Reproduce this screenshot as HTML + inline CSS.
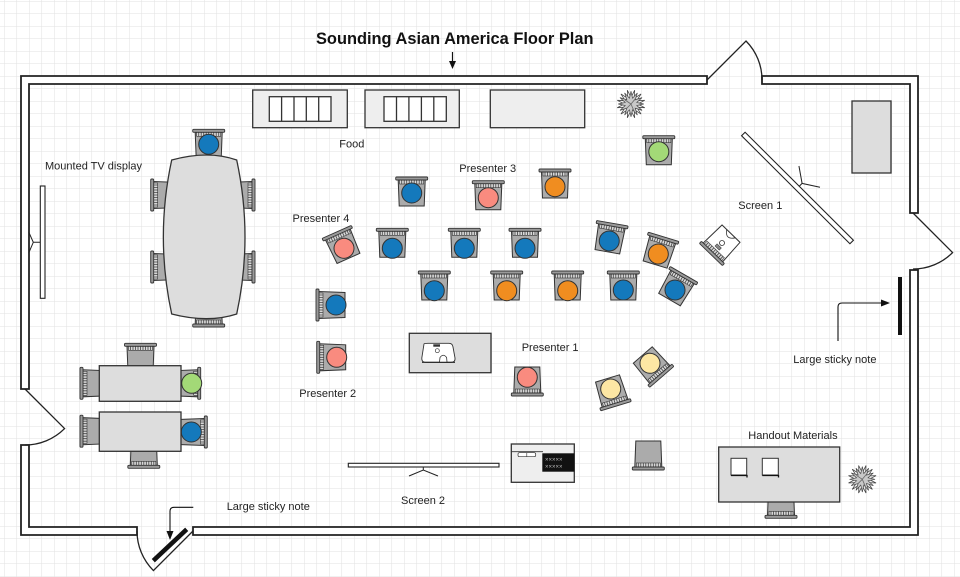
<!DOCTYPE html>
<html><head><meta charset="utf-8"><style>
html,body{margin:0;padding:0;background:#fff;}
svg{display:block;}
text{font-family:"Liberation Sans",Arial,sans-serif;fill:#222;}
</style></head><body>
<svg width="960" height="577" viewBox="0 0 960 577" xmlns="http://www.w3.org/2000/svg">
<defs>
<pattern id="grid" x="4" y="1" width="12.5" height="12.5" patternUnits="userSpaceOnUse">
<path d="M12.5 0 L0 0 L0 12.5" fill="none" stroke="#e2e2e2" stroke-width="1.1"/>
</pattern>
<g id="ch">
<polygon points="-13.5,-13 13.5,-13 12.5,13 -12.5,13" fill="#ababab" stroke="#333" stroke-width="1"/>
<rect x="-12" y="-13" width="24" height="4" fill="#d8d8d8" stroke="#333" stroke-width="0.6"/>
<path d="M-10,-13v4M-7.5,-13v4M-5,-13v4M-2.5,-13v4M0,-13v4M2.5,-13v4M5,-13v4M7.5,-13v4M10,-13v4" stroke="#444" stroke-width="0.8"/>
<rect x="-16" y="-16" width="32" height="3" rx="1" fill="#9a9a9a" stroke="#333" stroke-width="0.9"/>
</g>
<g id="plant">
<polygon points="15,0 6.8,1.8 13,7.5 4.9,4.9 7.5,13 1.8,6.8 0,15 -1.8,6.8 -7.5,13 -4.9,4.9 -13,7.5 -6.8,1.8 -15,0 -6.8,-1.8 -13,-7.5 -4.9,-4.9 -7.5,-13 -1.8,-6.8 0,-15 1.8,-6.8 7.5,-13 4.9,-4.9 13,-7.5 6.8,-1.8" fill="#eee" stroke="#444" stroke-width="0.8" transform="rotate(15) scale(0.95)"/>
<polygon points="15,0 6.8,1.8 13,7.5 4.9,4.9 7.5,13 1.8,6.8 0,15 -1.8,6.8 -7.5,13 -4.9,4.9 -13,7.5 -6.8,1.8 -15,0 -6.8,-1.8 -13,-7.5 -4.9,-4.9 -7.5,-13 -1.8,-6.8 0,-15 1.8,-6.8 7.5,-13 4.9,-4.9 13,-7.5 6.8,-1.8" fill="#c8c8c8" stroke="#444" stroke-width="0.8" transform="scale(0.85)"/>
<path d="M0,0 L-6,-4 M0,0 L5,-6 M0,0 L3,7 M0,0 L-5,5" stroke="#666" stroke-width="0.8"/>
</g>
</defs>
<rect width="960" height="577" fill="#fff"/>
<rect width="960" height="577" fill="url(#grid)"/>

<!-- Title -->
<text x="316" y="44" font-size="16.4" font-weight="bold" style="fill:#111">Sounding Asian America Floor Plan</text>
<line x1="452.5" y1="52" x2="452.5" y2="62" stroke="#111" stroke-width="1.2"/>
<polygon points="449,61 456,61 452.5,69" fill="#111"/>

<!-- Walls -->
<g fill="#fff" stroke="#222" stroke-width="1.8" stroke-linejoin="miter">
<path d="M707,76 L21,76 L21,389 L29,389 L29,84 L707,84 Z"/>
<path d="M21,445 L21,535 L137,535 L137,527 L29,527 L29,445 Z"/>
<path d="M193,527 L910,527 L910,270 L918,270 L918,535 L193,535 Z"/>
<path d="M762,76 L918,76 L918,213 L910,213 L910,84 L762,84 Z"/>
</g>
<!-- Doors -->
<g fill="none" stroke="#222" stroke-width="1.3">
<path d="M707,80 L746,41 A55,55 0 0 1 762,80"/>
<path d="M913,213 L952.6,252.6 A56,56 0 0 1 913,269"/>
<path d="M25,389 L64.6,428.6 A56,56 0 0 1 25,445"/>
<path d="M193,531 L153.4,570.6 A56,56 0 0 1 137,531"/>
</g>

<!-- Food tables -->
<g stroke="#333" stroke-width="1.3">
<rect x="252.7" y="90" width="94.6" height="37.7" fill="#eee"/>
<rect x="365" y="90" width="94.3" height="37.7" fill="#eee"/>
<rect x="490.3" y="90" width="94.4" height="37.7" fill="#eee"/>
<rect x="269.3" y="96.7" width="61.7" height="24.6" fill="#fff"/>
<rect x="384" y="96.7" width="62.3" height="24.6" fill="#fff"/>
<path d="M281.6,96.7V121.3M294,96.7V121.3M306.3,96.7V121.3M318.7,96.7V121.3M396.5,96.7V121.3M408.9,96.7V121.3M421.4,96.7V121.3M433.8,96.7V121.3" fill="none"/>
<rect x="852" y="101" width="39" height="72" fill="#ddd"/>
</g>
<use href="#plant" x="631" y="104"/>
<use href="#plant" x="862.3" y="479.3"/>

<!-- TV -->
<rect x="40.3" y="186" width="4.7" height="112.3" fill="#fff" stroke="#222" stroke-width="1.1"/>
<path d="M40.3,242.3 H33.3 M28.7,232 L33.3,242.3 L28.7,253" fill="none" stroke="#222" stroke-width="1"/>

<!-- Screen 1 -->
<g transform="translate(797.5,188) rotate(44.9)">
<rect x="-76.5" y="-2.5" width="153" height="5" fill="#fff" stroke="#222" stroke-width="1.1"/>
<path d="M0,-2.5 L0,-6.5 M-14.5,-16.6 L0,-6.5 L15.4,-16.4" fill="none" stroke="#222" stroke-width="1"/>
</g>
<!-- Screen 2 -->
<rect x="348.3" y="463.3" width="150.7" height="3.7" fill="#fff" stroke="#222" stroke-width="1.1"/>
<path d="M423.3,467 V470 M409,476 L423.3,470 L438,476" fill="none" stroke="#222" stroke-width="1"/>

<!-- Chairs with people -->
<g stroke="#333" stroke-width="1">
<g transform="translate(208.7,145.3)"><use href="#ch"/><circle cy="-1" r="10" fill="#1479bc"/></g>
<g transform="translate(411.7,193)"><use href="#ch"/><circle cy="0" r="10" fill="#1479bc"/></g>
<g transform="translate(488.3,196.7)"><use href="#ch"/><circle cy="1" r="10" fill="#f98b7f"/></g>
<g transform="translate(555,185)"><use href="#ch"/><circle cy="1.7" r="10" fill="#f08d20"/></g>
<g transform="translate(658.8,151.7)"><use href="#ch"/><circle cy="0" r="10" fill="#a3d977"/></g>
<g transform="translate(343.2,246.5) rotate(-24)"><use href="#ch"/><circle cy="2" r="10" fill="#f98b7f"/></g>
<g transform="translate(392.3,244.3)"><use href="#ch"/><circle cy="4" r="10" fill="#1479bc"/></g>
<g transform="translate(464.3,244.3)"><use href="#ch"/><circle cy="4" r="10" fill="#1479bc"/></g>
<g transform="translate(525,244.3)"><use href="#ch"/><circle cy="4" r="10" fill="#1479bc"/></g>
<g transform="translate(609.6,239) rotate(10)"><use href="#ch"/><circle cy="2" r="10" fill="#1479bc"/></g>
<g transform="translate(658.9,252.1) rotate(17)"><use href="#ch"/><circle cy="2" r="10" fill="#f08d20"/></g>
<g transform="translate(434.3,287)"><use href="#ch"/><circle cy="3.7" r="10" fill="#1479bc"/></g>
<g transform="translate(506.7,287)"><use href="#ch"/><circle cy="3.7" r="10" fill="#f08d20"/></g>
<g transform="translate(567.7,287)"><use href="#ch"/><circle cy="3.7" r="10" fill="#f08d20"/></g>
<g transform="translate(623.3,287)"><use href="#ch"/><circle cy="3" r="10" fill="#1479bc"/></g>
<g transform="translate(676,288.3) rotate(30)"><use href="#ch"/><circle cy="2" r="10" fill="#1479bc"/></g>
<g transform="translate(332,305) rotate(-90)"><use href="#ch"/><circle cy="4" r="10" fill="#1479bc"/></g>
<g transform="translate(332.7,357.3) rotate(-90)"><use href="#ch"/><circle cy="4" r="10" fill="#f98b7f"/></g>
<g transform="translate(527.3,380) rotate(180)"><use href="#ch"/><circle cy="2.7" r="10" fill="#f98b7f"/></g>
<g transform="translate(611.3,390.9) rotate(163)"><use href="#ch"/><circle cy="2" r="10" fill="#fde7a4"/></g>
<g transform="translate(651.3,364.8) rotate(139)"><use href="#ch"/><circle cy="2" r="10" fill="#fde7a4"/></g>
</g>

<!-- Empty chairs (under tables) -->
<g>
<use href="#ch" transform="translate(208.7,311) rotate(180)"/>
<use href="#ch" transform="translate(166.7,195) rotate(-90)"/>
<use href="#ch" transform="translate(166.7,267) rotate(-90)"/>
<use href="#ch" transform="translate(239,195) rotate(90)"/>
<use href="#ch" transform="translate(239,267) rotate(90)"/>
<use href="#ch" transform="translate(140.5,359.3)"/>
<use href="#ch" transform="translate(96,383.3) rotate(-90)"/>
<use href="#ch" transform="translate(96,431.2) rotate(-90)"/>
<use href="#ch" transform="translate(143.8,452.3) rotate(180)"/>
<use href="#ch" transform="translate(648.3,454) rotate(180)"/>
<use href="#ch" transform="translate(781,502.3) rotate(180)"/>
</g>
<!-- chairs beside left tables with people -->
<g stroke="#333" stroke-width="1">
<g transform="translate(184.7,383.3) rotate(90)"><use href="#ch"/><circle cy="-7" r="10" fill="#a3d977"/></g>
<g transform="translate(191.3,432) rotate(90)"><use href="#ch"/><circle cy="0" r="10" fill="#1479bc"/></g>
</g>

<!-- Projector on stand near screen 1 -->
<g transform="translate(722,243) rotate(224)" stroke="#333" stroke-width="1">
<polygon points="-13.5,-13 13.5,-13 12.5,13 -12.5,13" fill="#fff"/>
<rect x="-12" y="-13" width="24" height="4" fill="#d8d8d8" stroke-width="0.6"/>
<path d="M-10,-13v4M-7.5,-13v4M-5,-13v4M-2.5,-13v4M0,-13v4M2.5,-13v4M5,-13v4M7.5,-13v4M10,-13v4" stroke="#444" stroke-width="0.8"/>
<rect x="-16" y="-16" width="32" height="3" rx="1" fill="#9a9a9a" stroke-width="0.9"/>
<circle cx="0" cy="0" r="2.5" fill="#fff" stroke-width="0.8"/>
<rect x="-3" y="-7" width="6" height="3" fill="#888" stroke-width="0.5"/>
<path d="M-6,13 Q0,4 6,13" fill="none" stroke-width="0.8"/>
</g>

<!-- Big oval table -->
<path d="M171.7,160 Q208.3,150 236.7,160 Q253.3,237 236.7,314 Q208.3,323.4 171.7,314 Q155,237 171.7,160 Z" fill="#ddd" stroke="#333" stroke-width="1.3"/>
<!-- Left tables -->
<rect x="99.3" y="365.7" width="81.7" height="35.6" fill="#ddd" stroke="#333" stroke-width="1.3"/>
<rect x="99.3" y="412" width="81.7" height="39.3" fill="#ddd" stroke="#333" stroke-width="1.3"/>

<!-- Projector table -->
<rect x="409.3" y="333.3" width="81.7" height="39.4" fill="#ddd" stroke="#333" stroke-width="1.3"/>
<path d="M424,344 Q424,343.3 428,343.3 L449,343.3 Q452.5,343.3 453,347 L455,358 Q455.5,362.3 451,362.3 L425.5,362.3 Q421.5,362.3 421.8,358 Z" fill="#fff" stroke="#333" stroke-width="0.9"/>
<rect x="433.3" y="344.3" width="6.7" height="2.4" fill="#333"/>
<circle cx="437.3" cy="350.7" r="2" fill="#fff" stroke="#333" stroke-width="0.7"/>
<path d="M439.5,362 L440,357.5 Q443.3,353 446.6,357.5 L447,362" fill="#fff" stroke="#333" stroke-width="0.8"/>
<line x1="422" y1="362.3" x2="455" y2="362.3" stroke="#222" stroke-width="1.2"/>

<!-- Appliance -->
<rect x="511.3" y="444" width="63" height="38.3" fill="#eee" stroke="#333" stroke-width="1.3"/>
<line x1="511.3" y1="451.7" x2="543" y2="451.7" stroke="#333" stroke-width="0.9"/>
<rect x="518" y="452.7" width="17.7" height="4" rx="1.5" fill="#fff" stroke="#333" stroke-width="0.7"/>
<line x1="526.8" y1="452.7" x2="526.8" y2="456.7" stroke="#333" stroke-width="0.6"/>
<rect x="542.3" y="453.3" width="32" height="18.4" fill="#111"/>
<text x="545" y="461.5" font-size="6" style="fill:#bbb">×××××</text>
<text x="545" y="468.5" font-size="6" style="fill:#bbb">×××××</text>

<!-- Handout table -->
<rect x="718.7" y="447" width="121" height="55" fill="#ddd" stroke="#333" stroke-width="1.3"/>
<rect x="731" y="458.3" width="15.7" height="16.7" fill="#fff" stroke="#333" stroke-width="1"/>
<rect x="762.3" y="458.3" width="16" height="16.7" fill="#fff" stroke="#333" stroke-width="1"/>
<path d="M731,475.5 H747 V477.5 M762.3,475.5 H778.5 V477.5" fill="none" stroke="#111" stroke-width="1.3"/>

<!-- Sticky notes -->
<rect x="898" y="277" width="4" height="58" fill="#111"/>
<path d="M838,341 V307 Q838,303 842,303 H882" fill="none" stroke="#111" stroke-width="1.1"/>
<polygon points="881,299.5 890,303 881,306.5" fill="#111"/>
<line x1="153.3" y1="560.7" x2="186.7" y2="529.3" stroke="#111" stroke-width="4.5"/>
<path d="M193.3,507.3 H174 Q170,507.3 170,511.3 V531" fill="none" stroke="#111" stroke-width="1.1"/>
<polygon points="166.5,531 173.5,531 170,540" fill="#111"/>

<!-- Labels -->
<g font-size="11">
<text x="339.3" y="147.5">Food</text>
<text x="45" y="169.7">Mounted TV display</text>
<text x="459.3" y="172">Presenter 3</text>
<text x="292.5" y="222">Presenter 4</text>
<text x="738.3" y="209">Screen 1</text>
<text x="521.7" y="351">Presenter 1</text>
<text x="299.3" y="397">Presenter 2</text>
<text x="401" y="504">Screen 2</text>
<text x="226.7" y="509.8">Large sticky note</text>
<text x="793.3" y="363">Large sticky note</text>
<text x="748.3" y="439">Handout Materials</text>
</g>
</svg>
</body></html>
